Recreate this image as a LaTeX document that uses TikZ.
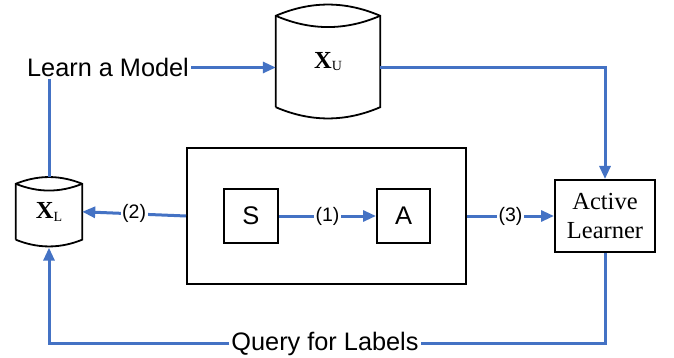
\documentclass[tikz,border=0pt]{standalone}
\usepackage{fontspec}
\setmainfont{Liberation Serif}
\newfontfamily\arial{Liberation Sans}
\usetikzlibrary{arrows.meta,calc}
\definecolor{ablue}{HTML}{4472C4}
\newcommand{\drawcyl}[2]{%
  \draw[cylline] (#1.south west) -- (#1.north west)
    .. controls ($(#1.north west)!1/3!(#1.north east)+(0,-#2)$) and ($(#1.north west)!2/3!(#1.north east)+(0,-#2)$) .. (#1.north east)
    -- (#1.south east)
    .. controls ($(#1.south west)!2/3!(#1.south east)+(0,#2)$) and ($(#1.south west)!1/3!(#1.south east)+(0,#2)$) .. (#1.south west);
  \draw[cylline] (#1.north west)
    .. controls ($(#1.north west)!1/3!(#1.north east)+(0,#2)$) and ($(#1.north west)!2/3!(#1.north east)+(0,#2)$) .. (#1.north east);
}
\begin{document}
\begin{tikzpicture}[x=1pt,y=-1pt,
  con/.style={draw=ablue,line width=3pt},
  arr/.style={con,-{Triangle[length=13pt,width=11pt]}},
  blk/.style={draw=black,line width=2pt},
  cylline/.style={draw=black,line width=1.8pt,line join=miter},
  lab/.style={font=\arial\fontsize{19.5}{22}\selectfont,fill=white,inner sep=1.5pt},
  big/.style={font=\arial\fontsize{25.3}{29}\selectfont,inner sep=2pt},
  xlab/.style={inner sep=0pt,font=\fontsize{24.5}{28}\selectfont}
]
\fill[white] (0,0) rectangle (674,358);
\useasboundingbox (0,0) rectangle (674,358);

\node[big] (lm) at (108,67.5) {Learn a Model};
\node[xlab,minimum width=104pt,minimum height=91pt] (xu) at (328,61.5)
  {\textbf{X}\raisebox{-2.5pt}{\fontsize{14}{14}\selectfont U}};
\node[xlab,minimum width=66pt,minimum height=55.5pt] (xl) at (49,211.75)
  {\textbf{X}\raisebox{-2.5pt}{\fontsize{14}{14}\selectfont L}};
\drawcyl{xu}{15}
\drawcyl{xl}{9}

\node[blk,minimum width=279pt,minimum height=136pt] (box) at (326.5,216) {};
\node[blk,minimum width=54pt,minimum height=54pt,font=\arial\fontsize{25.5}{28}\selectfont] (s) at (251,216) {S};
\node[blk,minimum width=53pt,minimum height=54pt,font=\arial\fontsize{25.5}{28}\selectfont] (a) at (403.5,216) {A};
\node[blk,minimum width=100pt,minimum height=72pt,align=center,font=\fontsize{24.5}{29}\selectfont] (al) at (605,216) {Active\\Learner};

\draw[arr] (s.east) -- node[lab]{(1)} (a.west);
\draw[arr] (box.west) -- node[lab]{(2)} (xl.east);
\draw[arr] (box.east) -- node[lab]{(3)} (al.west);
\draw[arr] (lm.east) -- (lm.east -| xu.west);
\draw[arr] (lm.east -| xu.east) -| (al.north);
\draw[con] (lm.south -| xl.north) -- ($(xl.north)+(0,-7)$);

\node[big] (q) at (325,343.5) {Query for Labels};
\draw[con] (al.south) |- (q.east);
\draw[arr] (q.west) -| ($(xl.south)+(0,8)$);
\end{tikzpicture}
\end{document}
